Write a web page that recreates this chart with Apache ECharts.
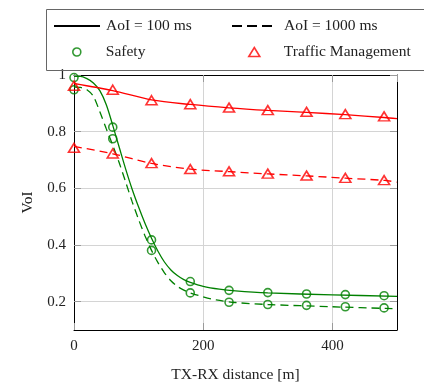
<!DOCTYPE html>
<html>
<head>
<meta charset="utf-8">
<script src="https://cdn.jsdelivr.net/npm/echarts@6/dist/echarts.min.js"></script>
<style>
html,body{margin:0;padding:0;background:#fff;}
#chart{width:424px;height:388px;}
</style>
</head>
<body>
<div id="chart"></div>
<script>
// ---- data ----
const markerX = [0, 60, 120, 180, 240, 300, 360, 420, 480];
const safety100Markers = [0.991, 0.816, 0.418, 0.271, 0.240, 0.232, 0.227, 0.225, 0.221];
const safety1000Markers = [0.948, 0.775, 0.381, 0.231, 0.198, 0.190, 0.187, 0.182, 0.178];
const traffic100Markers = [0.962, 0.948, 0.911, 0.897, 0.885, 0.876, 0.870, 0.862, 0.854];
const traffic1000Markers = [0.743, 0.723, 0.689, 0.668, 0.660, 0.652, 0.645, 0.637, 0.629];

const safety100CurveX = [0, 10, 20, 30, 40, 50, 60, 70, 80, 90, 100, 110, 120, 130, 140, 150, 160, 170, 180, 200, 225, 250, 300, 400, 500];
const safety100CurveY = [0.995, 0.995, 0.987, 0.972, 0.945, 0.895, 0.822, 0.745, 0.668, 0.597, 0.534, 0.476, 0.424, 0.378, 0.340, 0.312, 0.292, 0.278, 0.268, 0.254, 0.244, 0.238, 0.231, 0.224, 0.219];
const safety1000CurveX = [0, 10, 20, 30, 40, 50, 60, 70, 80, 90, 100, 110, 120, 130, 140, 150, 160, 170, 180, 200, 220, 250, 300, 400, 500];
const safety1000CurveY = [0.957, 0.956, 0.948, 0.925, 0.870, 0.810, 0.752, 0.690, 0.622, 0.553, 0.490, 0.432, 0.381, 0.338, 0.302, 0.274, 0.254, 0.241, 0.231, 0.217, 0.206, 0.197, 0.190, 0.182, 0.175];
const traffic100CurveX = [0, 60, 120, 180, 240, 300, 360, 420, 480, 500];
const traffic100CurveY = [0.970, 0.945, 0.912, 0.896, 0.884, 0.875, 0.868, 0.860, 0.850, 0.846];
const traffic1000CurveX = [0, 60, 120, 180, 240, 300, 360, 420, 480, 500];
const traffic1000CurveY = [0.748, 0.722, 0.688, 0.668, 0.659, 0.651, 0.644, 0.636, 0.628, 0.622];

const yTickValues = [0.2, 0.4, 0.6, 0.8, 1.0];

const legendNames = ['AoI = 100 ms', 'AoI = 1000 ms', 'Safety', 'Traffic Management'];
const xName = 'TX-RX distance [m]';
const yName = 'VoI';

// ---- styling ----
const GREEN = '#008000';
const RED = '#ff0000';
const FONT = 'Liberation Serif';
const TXT = '#222';
const GRIDC = '#d4d4d4';
const TICKC = '#9a9a9a';
const DASH = [8, 5];
const CLEAR = 'rgba(0,0,0,0)';

function zip(xs, ys) { return xs.map((x, i) => [x, ys[i]]); }

const chart = echarts.init(document.getElementById('chart'), null, { renderer: 'canvas' });

const baseAxis = {
  axisLine: { show: true, onZero: false, lineStyle: { color: '#000', width: 1 } },
  axisTick: { show: true, inside: true, length: 7, lineStyle: { color: TICKC, width: 1 } },
};
const legendText = { fontFamily: FONT, fontSize: 15.5, color: TXT };

const option = {
  animation: false,
  backgroundColor: '#fff',
  textStyle: { fontFamily: FONT },
  grid: { left: 74, right: 27, top: 75, bottom: 54, containLabel: false },
  graphic: [{
    type: 'rect', left: 44, top: 7, z: 50,
    shape: { width: 378, height: 61 },
    style: { fill: 'none', stroke: '#666', lineWidth: 1 }
  }],
  legend: [
    { data: [{ name: legendNames[0], itemStyle: { color: CLEAR, borderColor: CLEAR, borderWidth: 0 } }],
      left: 53, top: 18, padding: 0, itemWidth: 46, itemHeight: 14, itemGap: 0, selectedMode: false,
      textStyle: Object.assign({ padding: [0, 0, 0, 1] }, legendText) },
    { data: [{ name: legendNames[1], itemStyle: { color: CLEAR, borderColor: CLEAR, borderWidth: 0 } }],
      left: 231, top: 18, padding: 0, itemWidth: 40, itemHeight: 14, itemGap: 0, selectedMode: false,
      lineStyle: { type: [10, 5] },
      textStyle: Object.assign({ padding: [0, 0, 0, 7] }, legendText) },
    { data: [{ name: legendNames[2], icon: 'circle', itemStyle: { color: CLEAR, borderColor: GREEN, borderWidth: 1.6 } }],
      left: 72, top: 44, padding: 0, itemWidth: 8, itemHeight: 8, itemGap: 0, selectedMode: false,
      textStyle: Object.assign({ padding: [0, 0, 0, 20] }, legendText) },
    { data: [{ name: legendNames[3], icon: 'triangle', itemStyle: { color: CLEAR, borderColor: RED, borderWidth: 1.6 } }],
      left: 248, top: 44, padding: 0, itemWidth: 11, itemHeight: 9, itemGap: 0, selectedMode: false,
      textStyle: Object.assign({ padding: [0, 0, 0, 19] }, legendText) }
  ],
  xAxis: [
    Object.assign({}, baseAxis, {
      type: 'value', min: 0, max: 500, interval: 200,
      name: xName, nameLocation: 'middle', nameGap: 37,
      nameTextStyle: { fontFamily: FONT, fontSize: 15.5, color: TXT },
      axisLabel: { fontFamily: FONT, fontSize: 15, color: TXT, margin: 9, showMaxLabel: false },
      splitLine: { show: true, lineStyle: { color: GRIDC, width: 1 } }
    }),
    Object.assign({}, baseAxis, {
      type: 'value', min: 0, max: 500, interval: 200, position: 'top',
      axisLabel: { show: false }, splitLine: { show: false }
    })
  ],
  yAxis: [
    Object.assign({}, baseAxis, {
      type: 'value', min: 0.1, max: 1.0,
      name: yName, nameLocation: 'middle', nameGap: 38, nameRotate: 90,
      nameTextStyle: { fontFamily: FONT, fontSize: 15.5, color: TXT },
      axisTick: { show: true, inside: true, length: 7, customValues: yTickValues, lineStyle: { color: TICKC, width: 1 } },
      axisLabel: { fontFamily: FONT, fontSize: 15, color: TXT, margin: 8, customValues: yTickValues,
        formatter: v => (Math.abs(v - 1) < 1e-9 ? '1' : v.toFixed(1)) },
      splitLine: { show: true, customValues: yTickValues, lineStyle: { color: GRIDC, width: 1 } }
    }),
    Object.assign({}, baseAxis, {
      type: 'value', min: 0.1, max: 1.0, position: 'right',
      axisTick: { show: true, inside: true, length: 7, customValues: yTickValues, lineStyle: { color: TICKC, width: 1 } },
      axisLabel: { show: false, customValues: yTickValues }, splitLine: { show: false }
    })
  ],
  series: [
    { name: legendNames[0], type: 'line', data: [], symbol: 'none', color: '#000', lineStyle: { color: '#000', width: 1.5 } },
    { name: legendNames[1], type: 'line', data: [], symbol: 'none', color: '#000', lineStyle: { color: '#000', width: 1.5, type: DASH } },
    { type: 'line', data: zip(safety100CurveX, safety100CurveY), symbol: 'none', smooth: 0.3,
      lineStyle: { color: GREEN, width: 1.3 }, z: 3, silent: true },
    { type: 'line', data: zip(safety1000CurveX, safety1000CurveY), symbol: 'none', smooth: 0.3,
      lineStyle: { color: GREEN, width: 1.3, type: DASH }, z: 3, silent: true },
    { type: 'line', data: zip(traffic100CurveX, traffic100CurveY), symbol: 'none', smooth: 0.3,
      lineStyle: { color: RED, width: 1.3 }, z: 3, silent: true },
    { type: 'line', data: zip(traffic1000CurveX, traffic1000CurveY), symbol: 'none', smooth: 0.3,
      lineStyle: { color: RED, width: 1.3, type: DASH }, z: 3, silent: true },
    { name: legendNames[2], type: 'scatter', symbol: 'circle', symbolSize: 8,
      data: zip(markerX, safety100Markers).concat(zip(markerX, safety1000Markers)),
      itemStyle: { color: CLEAR, borderColor: GREEN, borderWidth: 1.6 }, z: 4 },
    { name: legendNames[3], type: 'scatter', symbol: 'triangle', symbolSize: [11, 9],
      data: zip(markerX, traffic100Markers).concat(zip(markerX, traffic1000Markers)),
      itemStyle: { color: CLEAR, borderColor: RED, borderWidth: 1.6 }, z: 4 }
  ]
};
chart.setOption(option);
</script>
</body>
</html>
